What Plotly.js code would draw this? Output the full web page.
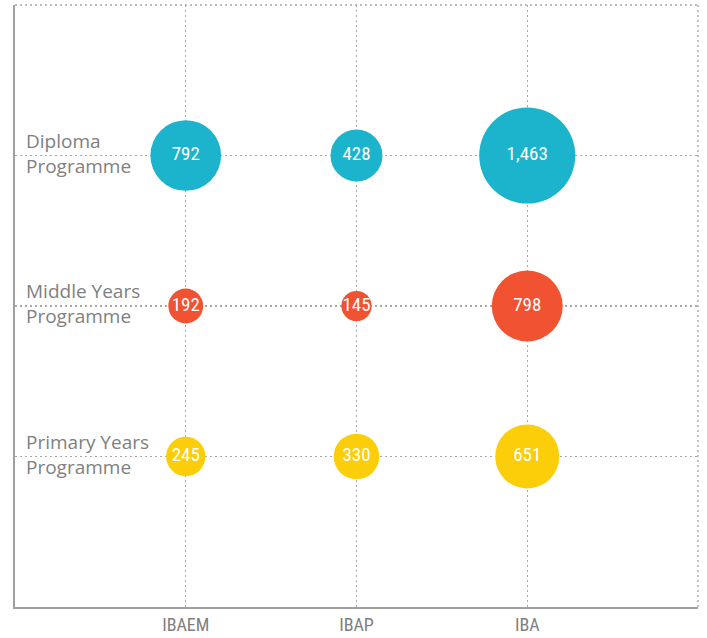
<!DOCTYPE html>
<html>
<head>
<meta charset="utf-8">
<script src="https://cdn.plot.ly/plotly-3.0.1.min.js"></script>
<style>html,body{margin:0;padding:0;background:#fff;}#chart{width:707px;height:638px;}</style>
</head>
<body>
<div id="chart"></div>
<script>
// Data
const schools = ["IBAEM", "IBAP", "IBA"];
const programmes = ["Primary Years Programme", "Middle Years Programme", "Diploma Programme"];
const labelLine1 = ["Primary Years", "Middle Years", "Diploma"];
const labelLine2 = ["Programme", "Programme", "Programme"];
const diplomaValues = [792, 428, 1463];
const middleValues = [192, 145, 798];
const primaryValues = [245, 330, 651];

const seriesValues = [primaryValues, middleValues, diplomaValues];
const seriesColors = ["#FCCE0A", "#F15232", "#1BB4CC"];

const condensed = "Roboto Condensed, Liberation Sans Narrow, DejaVu Sans Condensed, Arial Narrow, sans-serif";
const labelFont = {family: "Open Sans, Noto Sans, sans-serif", size: 19, color: "#808080"};
const fmt = v => v.toLocaleString("en-US");

const traces = seriesValues.map((vals, i) => ({
  type: "scatter",
  mode: "markers+text",
  x: schools,
  y: schools.map(() => programmes[i]),
  text: vals.map(fmt),
  textposition: "middle center",
  textfont: {family: condensed, size: 19, color: "#ffffff"},
  marker: {size: vals, sizemode: "area", sizeref: 0.317, color: seriesColors[i], line: {width: 0}, opacity: 1},
  hoverinfo: "none",
  cliponaxis: false,
  showlegend: false
}));

const annotations = [];
programmes.forEach((p, i) => {
  annotations.push({
    xref: "paper", yref: "y", x: 0, y: p, xshift: 9, yshift: 15,
    text: labelLine1[i], showarrow: false,
    xanchor: "left", yanchor: "middle", align: "left", font: labelFont
  });
  annotations.push({
    xref: "paper", yref: "y", x: 0, y: p, xshift: 9, yshift: -10,
    text: labelLine2[i], showarrow: false,
    xanchor: "left", yanchor: "middle", align: "left", font: labelFont
  });
});

const layout = {
  width: 707, height: 638,
  margin: {l: 15, r: 9, t: 5, b: 31},
  paper_bgcolor: "#ffffff", plot_bgcolor: "#ffffff",
  xaxis: {
    type: "category", categoryorder: "array", categoryarray: schools,
    range: [-1, 3], showgrid: true, gridcolor: "#a8a8a8", gridwidth: 1.4, griddash: "2px,3px",
    showline: true, linecolor: "#a0a0a0", linewidth: 2, zeroline: false,
    ticks: "", ticklabelstandoff: 0, tickfont: {family: condensed, size: 18, color: "#808080"},
    fixedrange: true
  },
  yaxis: {
    type: "category", categoryorder: "array", categoryarray: programmes,
    range: [-1, 3], showgrid: true, gridcolor: "#a8a8a8", gridwidth: 1.4, griddash: "2px,3px",
    showline: true, linecolor: "#a0a0a0", linewidth: 2, zeroline: false,
    showticklabels: false, ticks: "", fixedrange: true
  },
  shapes: [
    {type: "line", xref: "paper", yref: "paper", x0: 0, x1: 1, y0: 1, y1: 1, line: {color: "#a8a8a8", width: 1.4, dash: "2px,3px"}},
    {type: "line", xref: "paper", yref: "paper", x0: 1, x1: 1, y0: 0, y1: 1, line: {color: "#a8a8a8", width: 1.4, dash: "2px,3px"}}
  ],
  annotations: annotations,
  showlegend: false
};

Plotly.newPlot("chart", traces, layout, {displayModeBar: false, staticPlot: true});
</script>
</body>
</html>
